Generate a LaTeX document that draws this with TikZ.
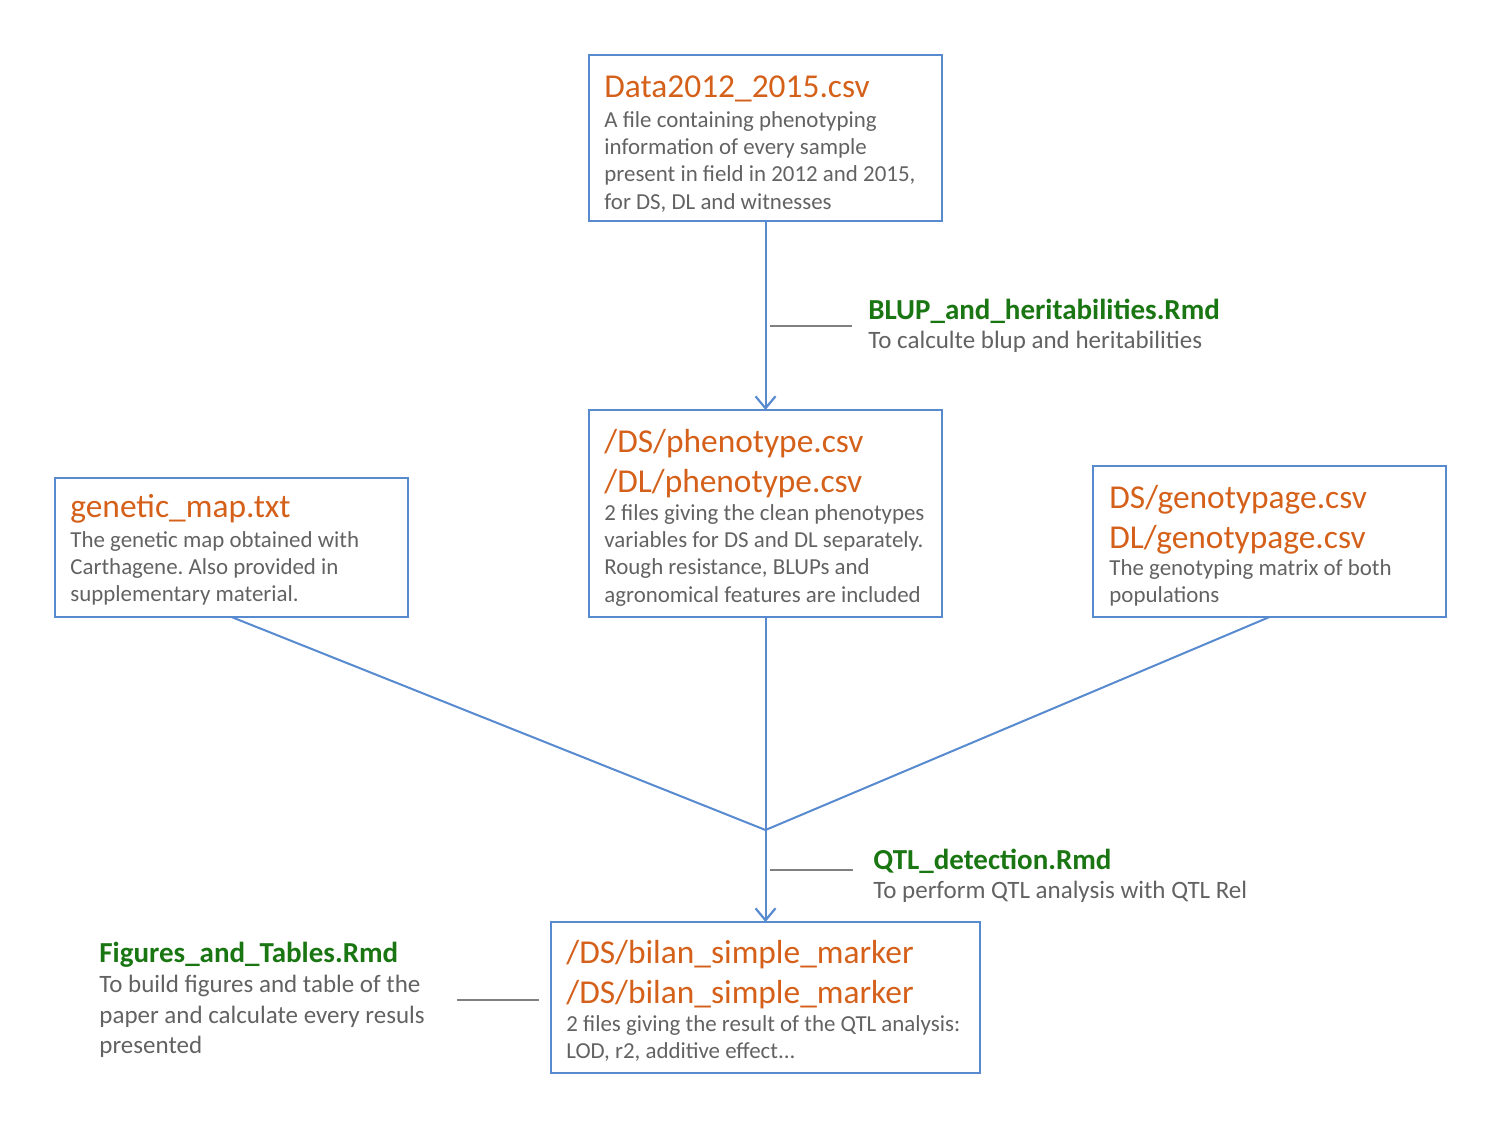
\documentclass[tikz,border=0pt]{standalone}
\usepackage{fontspec}
\setmainfont{Carlito}
\frenchspacing
\usetikzlibrary{arrows.meta, positioning}

\definecolor{fileorange}{RGB}{212,96,26}
\definecolor{rmdgreen}{RGB}{26,118,18}
\definecolor{txtgray}{RGB}{98,98,98}
\definecolor{linkblue}{RGB}{88,138,208}
\definecolor{tickgray}{RGB}{128,128,128}

\tikzset{
  filebox/.style={draw=linkblue, line width=1pt, inner sep=0pt, outer sep=0pt, anchor=north west, minimum width=176.5pt},
  fname/.style={text=fileorange, font=\fontsize{16.7}{20}\selectfont, align=left, anchor=north west, inner sep=0pt, yshift=14pt},
  fdesc/.style={text=txtgray, font=\fontsize{11.45}{13.6}\selectfont, align=left, anchor=north west, inner sep=0pt, yshift=9.52pt},
  rmdlabel/.style={font=\fontsize{12.5}{14.5}\selectfont, align=left, anchor=west, inner sep=0pt},
  link/.style={draw=linkblue, line width=1pt},
  linkarrow/.style={link, -{Straight Barb[length=6pt, width=10pt, line width=1.1pt]}},
  tick/.style={draw=tickgray, line width=0.8pt},
}
\newcommand{\rmdname}[1]{{\color{rmdgreen}\bfseries\fontsize{14.5}{14.5}\selectfont #1}}

\begin{document}
\begin{tikzpicture}[x=0.5pt, y=-0.5pt]
    \useasboundingbox (0,0) rectangle (1500,1125);

    % Fichier de départ
    \node[filebox, minimum height=83pt] (data) at (589,55) {};
    \node[fname] (dataT) at (604,97) {\strut Data2012\_2015.csv};
    \node[fdesc] (dataD) at (604,127) {\strut A file containing phenotyping\\information of every sample\\present in field in 2012 and 2015,\\for DS, DL and witnesses};

    % Phénotypes nettoyés
    \node[filebox, minimum height=103.5pt] (pheno) at (589,410) {};
    \node[fname] (phenoT) at (604,452) {\strut /DS/phenotype.csv\\/DL/phenotype.csv};
    \node[fdesc] (phenoD) at (604,520) {\strut 2 files giving the clean phenotypes\\variables for DS and DL separately.\\Rough resistance, BLUPs and\\agronomical features are included};

    % Carte génétique
    \node[filebox, minimum height=69.5pt] (gmap) at (55,478) {};
    \node[fname] (gmapT) at (70,517) {\strut genetic\_map.txt};
    \node[fdesc] (gmapD) at (70,547) {\strut The genetic map obtained with\\Carthagene. Also provided in\\supplementary material.};

    % Génotypage
    \node[filebox, minimum height=75.5pt] (geno) at (1093,466) {};
    \node[fname] (genoT) at (1109,508) {\strut DS/genotypage.csv\\DL/genotypage.csv};
    \node[fdesc] (genoD) at (1109,575) {\strut The genotyping matrix of both\\populations};

    % Résultats QTL
    \node[filebox, minimum width=214.5pt, minimum height=75.5pt] (bilan) at (551,922) {};
    \node[fname] (bilanT) at (566,963) {\strut /DS/bilan\_simple\_marker\\/DS/bilan\_simple\_marker};
    \node[fdesc] (bilanD) at (566,1031) {\strut 2 files giving the result of the QTL analysis:\\LOD, r2, additive effect...};

    % Scripts Rmd
    \node[rmdlabel] (blup) at (868,326) {\rmdname{BLUP\_and\_heritabilities.Rmd}\\{\color{txtgray}To calculte blup and heritabilities}};
    \node[rmdlabel] (qtl) at (873,876) {\rmdname{QTL\_detection.Rmd}\\{\color{txtgray}To perform QTL analysis with QTL Rel}};
    \node[rmdlabel, font=\fontsize{12.5}{15.2}\selectfont] (figs) at (99,1000) {\rmdname{Figures\_and\_Tables.Rmd}\\{\color{txtgray}To build figures and table of the}\\{\color{txtgray}paper and calculate every resuls}\\{\color{txtgray}presented}};

    % Liaisons
    \coordinate (merge) at (765.5,830);
    \draw[linkarrow] (data) -- (pheno);
    \draw[link] (gmap.south) -- (merge);
    \draw[link] (pheno.south) -- (merge);
    \draw[link] (geno.south) -- (merge);
    \draw[linkarrow] (merge) -- (merge |- bilan.north);

    % Petits traits vers les scripts
    \draw[tick, shorten <=2.25pt, shorten >=8pt] (blup.west -| data.south) -- (blup.west);
    \draw[tick, shorten <=2.25pt, shorten >=10pt] ([yshift=3pt]qtl.west -| merge) -- ([yshift=3pt]qtl.west);
    \coordinate (figsT) at (457,1000);
    \draw[tick, shorten >=6pt] (figsT) -- (figsT -| bilan.west);
\end{tikzpicture}
\end{document}
